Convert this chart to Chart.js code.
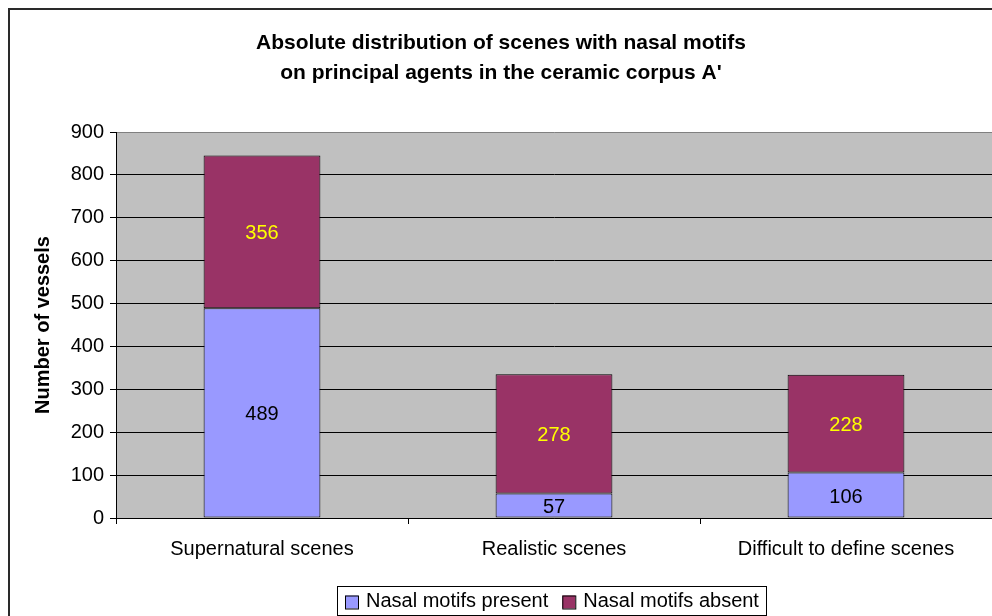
<!DOCTYPE html>
<html>
<head>
<meta charset="utf-8">
<script src="https://cdn.jsdelivr.net/npm/chart.js@4"></script>
<style>
  html, body { margin: 0; padding: 0; background: #fff; overflow: hidden; }
  #grafico { display: block; }
</style>
</head>
<body>
<canvas id="grafico" width="992" height="616"></canvas>
<script>
const categorias = ['Supernatural scenes', 'Realistic scenes', 'Difficult to define scenes'];
const presentes = [489, 57, 106];
const ausentes = [356, 278, 228];
const titulo = ['Absolute distribution of scenes with nasal motifs', "on principal agents in the ceramic corpus A'"];
const fonte = '"Liberation Sans", Arial, sans-serif';

// moldura externa, fundo cinza da área do gráfico e título
const fundo = {
  id: 'fundo',
  beforeDraw(chart) {
    const { ctx, chartArea: a } = chart;
    ctx.save();
    ctx.fillStyle = '#C0C0C0';
    ctx.fillRect(a.left, a.top, a.right - a.left, a.bottom - a.top);
    ctx.strokeStyle = '#2a2a2a';
    ctx.lineWidth = 2;
    ctx.beginPath();
    ctx.moveTo(9, 616);
    ctx.lineTo(9, 9);
    ctx.lineTo(992, 9);
    ctx.stroke();
    ctx.fillStyle = '#000';
    ctx.font = 'bold 21px ' + fonte;
    ctx.textAlign = 'center';
    ctx.textBaseline = 'middle';
    ctx.fillText(titulo[0], 501, 43);
    ctx.fillText(titulo[1], 501, 73);
    ctx.restore();
  }
};

// valores dentro das barras
const rotulos = {
  id: 'rotulos',
  afterDatasetsDraw(chart) {
    const { ctx } = chart;
    ctx.save();
    ctx.font = '20px ' + fonte;
    ctx.textAlign = 'center';
    ctx.textBaseline = 'middle';
    chart.data.datasets.forEach((ds, i) => {
      chart.getDatasetMeta(i).data.forEach((bar, j) => {
        ctx.fillStyle = ds.corRotulo;
        ctx.fillText(String(ds.data[j]), bar.x, (bar.y + bar.base) / 2 + 2);
      });
    });
    ctx.restore();
  }
};

// legenda com caixa, embaixo
const legenda = {
  id: 'legenda',
  afterDraw(chart) {
    const { ctx } = chart;
    ctx.save();
    ctx.font = '20px ' + fonte;
    ctx.textBaseline = 'middle';
    const x0 = 337, y0 = 586, alt = 29;
    ctx.fillStyle = '#fff';
    ctx.fillRect(x0, y0, 429, alt);
    ctx.strokeStyle = '#000';
    ctx.lineWidth = 1;
    ctx.strokeRect(x0 + 0.5, y0 + 0.5, 429, alt);
    let x = x0 + 8;
    const yc = y0 + alt / 2 + 1;
    chart.data.datasets.forEach(ds => {
      ctx.fillStyle = ds.backgroundColor;
      ctx.fillRect(x, yc - 6, 13, 13);
      ctx.strokeStyle = '#000';
      ctx.strokeRect(x + 0.5, yc - 6 + 0.5, 13, 13);
      ctx.fillStyle = '#000';
      ctx.fillText(ds.label, x + 21, yc);
      x += 21 + ctx.measureText(ds.label).width + 14;
    });
    ctx.restore();
  }
};

new Chart(document.getElementById('grafico').getContext('2d'), {
  type: 'bar',
  data: {
    labels: categorias,
    datasets: [
      { label: 'Nasal motifs present', data: presentes, backgroundColor: '#9999FF', corRotulo: '#000000',
        borderColor: '#000', borderWidth: 1, borderSkipped: false },
      { label: 'Nasal motifs absent', data: ausentes, backgroundColor: '#993366', corRotulo: '#FFFF00',
        borderColor: '#000', borderWidth: 1, borderSkipped: false }
    ]
  },
  plugins: [fundo, rotulos, legenda],
  options: {
    responsive: false,
    animation: false,
    layout: { padding: { left: 0, top: 132, right: 0, bottom: 0 } },
    datasets: { bar: { barPercentage: 0.4, categoryPercentage: 1 } },
    scales: {
      x: {
        stacked: true,
        afterFit: s => { s.height = 98; },
        grid: { offset: true, drawOnChartArea: false, color: '#000', tickLength: 6 },
        border: { color: '#000', width: 1 },
        ticks: { color: '#000', font: { family: fonte, size: 20 }, padding: 13, maxRotation: 0 }
      },
      y: {
        stacked: true,
        min: 0,
        max: 900,
        afterFit: s => { s.width = 116; },
        grid: {
          color: c => c.tick && c.tick.value === 900 ? '#808080' : '#000',
          tickColor: '#000',
          tickLength: 6
        },
        border: { color: '#000', width: 1 },
        ticks: { stepSize: 100, color: '#000', font: { family: fonte, size: 20 }, padding: 6 },
        title: { display: true, text: 'Number of vessels', color: '#000',
          font: { family: fonte, size: 20, weight: 'bold' }, padding: { top: 31, bottom: 0 } }
      }
    },
    plugins: {
      legend: { display: false },
      title: { display: false },
      tooltip: { enabled: false }
    }
  }
});
</script>
</body>
</html>
